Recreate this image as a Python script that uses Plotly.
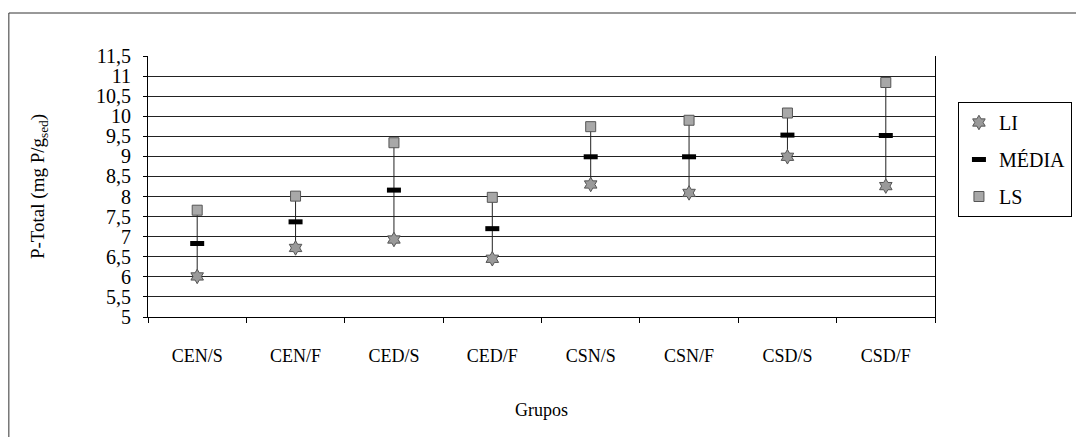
import plotly.graph_objects as go

grupos = ['CEN/S', 'CEN/F', 'CED/S', 'CED/F', 'CSN/S', 'CSN/F', 'CSD/S', 'CSD/F']
li = [6.01, 6.72, 6.93, 6.45, 8.30, 8.09, 8.99, 8.26]
media = [6.83, 7.37, 8.16, 7.20, 8.99, 8.99, 9.53, 9.52]
ls = [7.66, 8.01, 9.34, 7.98, 9.74, 9.90, 10.08, 10.84]

serif = 'Liberation Serif'

# vertical segment LI -> LS for each group
seg_x, seg_y = [], []
for g, lo, hi in zip(grupos, li, ls):
    seg_x += [g, g, None]
    seg_y += [lo, hi, None]

fig = go.Figure()
fig.add_trace(go.Scatter(x=seg_x, y=seg_y, mode='lines', showlegend=False,
                         line=dict(color='#222222', width=1), hoverinfo='skip'))
fig.add_trace(go.Scatter(x=grupos, y=li, mode='markers', name='LI', legendgroup='a',
                         marker=dict(symbol='hexagram', size=11, color='#9a9a9a',
                                     line=dict(color='#555555', width=1))))
fig.add_trace(go.Scatter(x=grupos, y=media, mode='markers', name='MÉDIA', legendgroup='b',
                         marker=dict(symbol='line-ew', size=10,
                                     line=dict(color='black', width=5))))
fig.add_trace(go.Scatter(x=grupos, y=ls, mode='markers', name='LS', legendgroup='c',
                         marker=dict(symbol='square', size=10, color='#a8a8a8',
                                     line=dict(color='#555555', width=1))))

# page body has an 8px margin, so the figure starts at (8, 8)
W, H = 1076, 429
L, T, pw, ph = 140, 48, 789, 261
R, B = W - L - pw, H - T - ph

fig.update_layout(
    width=W, height=H,
    margin=dict(l=L, r=R, t=T, b=B),
    paper_bgcolor='white', plot_bgcolor='white',
    separators=',.',
    font=dict(family=serif, color='black', size=18),
    showlegend=True,
    legend=dict(
        x=(952 - L) / pw, y=(T + ph - 94) / ph, xanchor='left', yanchor='top',
        bordercolor='black', borderwidth=1, bgcolor='white',
        font=dict(family=serif, size=20), traceorder='grouped', tracegroupgap=8,
        itemwidth=30,
    ),
    shapes=[dict(type='rect', xref='paper', yref='paper',
                 x0=(0.5 - L) / pw, x1=(W + 20 - L) / pw,
                 y0=(T + ph - (H + 20)) / ph, y1=(T + ph - 5) / ph,
                 line=dict(color='#333333', width=1), fillcolor='rgba(0,0,0,0)',
                 layer='below')],
)
fig.update_xaxes(
    type='category', range=[-0.5, 7.5],
    showline=True, linecolor='black', linewidth=1, mirror=False,
    showgrid=False, ticks='outside', ticklen=5, tickcolor='black', tickson='boundaries',
    tickfont=dict(family=serif, size=18), ticklabelstandoff=22,
    title=dict(text='Grupos', font=dict(family=serif, size=18), standoff=38),
)
fig.update_yaxes(
    range=[5, 11.5], dtick=0.5, tick0=5,
    showline=True, linecolor='black', linewidth=1, mirror=True,
    showgrid=True, gridcolor='#222222', gridwidth=1,
    ticks='outside', ticklen=4, tickcolor='black',
    tickfont=dict(family=serif, size=20), ticklabelstandoff=8,
    zeroline=False,
    title=dict(text='P-Total (mg P/g<sub>sed</sub>)', font=dict(family=serif, size=19), standoff=46),
)

fig.write_html('out.html')
